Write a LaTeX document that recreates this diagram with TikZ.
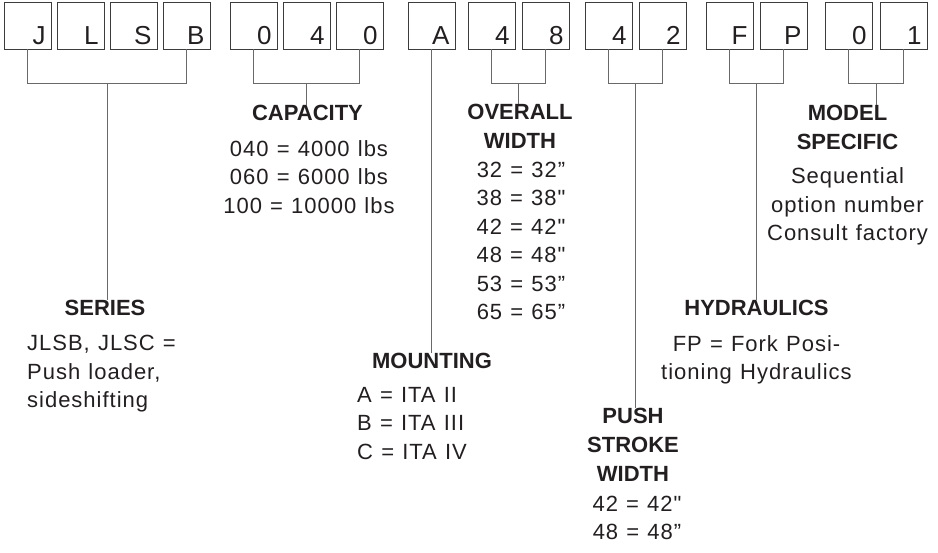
\documentclass[tikz,border=0pt]{standalone}
\usepackage{fontspec}
\setmainfont{Liberation Sans}[Ligatures=TeXOff]
\newfontfamily\listfont{Liberation Sans}[Ligatures=TeXOff, LetterSpace=4.5, WordSpace=1.15]
\usetikzlibrary{positioning, calc}
\definecolor{ink}{RGB}{35,31,32}
\definecolor{frame}{RGB}{60,60,60}
\definecolor{wire}{RGB}{105,105,105}

\begin{document}
\begin{tikzpicture}[x=1pt, y=-1pt, text=ink]
    \tikzset{box/.style={draw=frame, line width=0.8pt, minimum width=47pt, minimum height=47pt, inner sep=0pt,
            text width=36pt, align=right, text height=42pt, text depth=4pt, font=\fontsize{26}{26}\selectfont},
        wire/.style={draw=wire, line width=0.9pt},
        head/.style={font=\fontsize{22}{29}\selectfont\bfseries, align=center, inner sep=0pt, anchor=north},
        desc/.style={font=\fontsize{22}{28.5}\selectfont\listfont, inner sep=0pt}
    }
    \useasboundingbox (0,0) rectangle (938,553);

    % code boxes
    \foreach \n / \x / \t in {J/27.5/J, L/80.5/L, S/133.5/S, B/186.5/B, c1/253.5/0, c2/306.5/4, c3/359.5/0,
        A/431.5/A, w1/491.5/4, w2/545.5/8, s1/608.5/4, s2/662.5/2, h1/729.5/F, h2/783.5/P, m1/848.5/0, m2/903.5/1} {
        \node (\n) [box] at (\x, 25.5) {\t};
    }

    % brackets under the groups
    \foreach \a / \b / \m in {J/B/ser, c1/c3/cap, w1/w2/wid, s1/s2/str, h1/h2/hyd, m1/m2/mod} {
        \draw [wire] (\a.south) -- (\a.south |- 0,83) -| (\b.south);
        \coordinate (\m-fork) at ($(\a.south |- 0,83)!0.5!(\b.south |- 0,83)$);
    }

    % headings and their lists
    \node (series) [head] at (105, 300) {SERIES};
    \node (series-list) [desc, align=left, below=19pt of series, xshift=-3.5pt] {JLSB, JLSC =\\Push loader,\\sideshifting};

    \node (capacity) [head] at (307.5, 105) {CAPACITY};
    \node (capacity-list) [desc, align=center, below=19pt of capacity, xshift=1.5pt] {040 = 4000 lbs\\060 = 6000 lbs\\100 = 10000 lbs};

    \node (mounting) [head] at (432, 353) {MOUNTING};
    \node (mounting-list) [desc, align=left, below=18pt of mounting, xshift=-20pt] {A = ITA II\\B = ITA III\\C = ITA IV};

    \node (width) [head] at (520, 104) {OVERALL\\WIDTH};
    \node (width-list) [desc, align=center, below=13pt of width, xshift=1pt] {32 = 32”\\38 = 38"\\42 = 42"\\48 = 48"\\53 = 53”\\65 = 65”};

    \node (stroke) [head] at (633, 408) {PUSH\\STROKE\\WIDTH};
    \node (stroke-list) [desc, align=center, below=14pt of stroke, xshift=4pt] {42 = 42"\\48 = 48”};

    \node (hydraulics) [head] at (756.5, 300) {HYDRAULICS};
    \node (hydraulics-list) [desc, align=center, below=19pt of hydraulics] {FP = Fork Posi-\\tioning Hydraulics};

    \node (model) [head] at (847.5, 105) {MODEL\\SPECIFIC};
    \node (model-list) [desc, align=center, below=17.5pt of model] {Sequential\\option number\\Consult factory};

    % stems down to the headings
    \draw [wire] (ser-fork) -- (ser-fork |- series.north);
    \draw [wire] (cap-fork) -- (cap-fork |- capacity.north);
    \draw [wire] (A.south) -- (A.south |- mounting.north);
    \draw [wire] (wid-fork) -- (wid-fork |- width.north);
    \draw [wire] (str-fork) -- (str-fork |- stroke.north);
    \draw [wire] (hyd-fork) -- (hyd-fork |- hydraulics.north);
    \draw [wire] (mod-fork) -- (mod-fork |- model.north);
\end{tikzpicture}
\end{document}
